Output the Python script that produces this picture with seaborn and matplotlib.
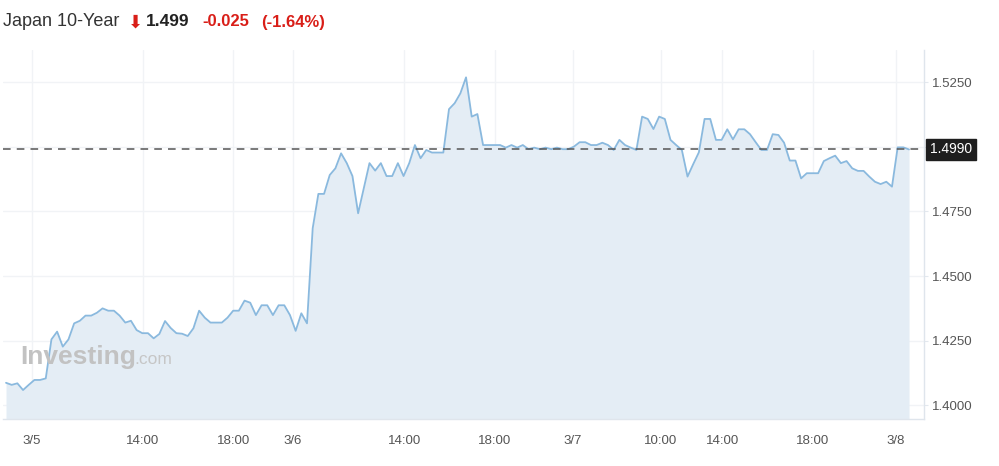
import seaborn as sns
import matplotlib.pyplot as plt
import matplotlib.transforms as mtransforms
import pandas as pd
import numpy as np

# Japan 10-Year yield, 15-min bars 3/5 - 3/8
yields = [
    1.4087, 1.4079, 1.4085, 1.4059, 1.4079, 1.4098, 1.4098, 1.4104, 1.4255, 1.4285,
    1.4227, 1.4255, 1.4317, 1.4327, 1.4347, 1.4347, 1.4358, 1.4375, 1.4366, 1.4366,
    1.4347, 1.4320, 1.4327, 1.4291, 1.4279, 1.4279, 1.4259, 1.4276, 1.4326, 1.4299,
    1.4279, 1.4277, 1.4268, 1.4298, 1.4366, 1.4339, 1.4320, 1.4320, 1.4320, 1.4339,
    1.4366, 1.4366, 1.4405, 1.4397, 1.4349, 1.4387, 1.4387, 1.4349, 1.4387, 1.4387,
    1.4349, 1.4288, 1.4356, 1.4317, 1.4685, 1.4818, 1.4818, 1.4891, 1.4917, 1.4975,
    1.4937, 1.4887, 1.4743, 1.4840, 1.4937, 1.4908, 1.4937, 1.4887, 1.4887, 1.4937,
    1.4887, 1.4937, 1.5007, 1.4956, 1.4988, 1.4978, 1.4978, 1.4978, 1.5146, 1.5169,
    1.5207, 1.5269, 1.5117, 1.5127, 1.5007, 1.5007, 1.5007, 1.5007, 1.4997, 1.5007,
    1.4997, 1.5007, 1.4991, 1.4997, 1.4991, 1.4997, 1.4991, 1.4997, 1.4991, 1.4991,
    1.5001, 1.5018, 1.5018, 1.5007, 1.5007, 1.5016, 1.5007, 1.4988, 1.5027, 1.5007,
    1.4997, 1.4988, 1.5117, 1.5108, 1.5069, 1.5117, 1.5108, 1.5027, 1.5007, 1.4988,
    1.4885, 1.4933, 1.4979, 1.5108, 1.5108, 1.5027, 1.5027, 1.5068, 1.5029, 1.5068,
    1.5068, 1.5049, 1.5018, 1.4988, 1.4988, 1.5049, 1.5046, 1.5016, 1.4947, 1.4947,
    1.4878, 1.4898, 1.4898, 1.4898, 1.4945, 1.4956, 1.4966, 1.4937, 1.4945, 1.4917,
    1.4907, 1.4907, 1.4885, 1.4865, 1.4856, 1.4865, 1.4846, 1.4998, 1.4998, 1.4990,
]
tick_pos = [4.6, 24.1, 40.0, 50.5, 70.1, 86.1, 99.8, 115.3, 126.1, 142.1, 156.7]
tick_labels = ['3/5', '14:00', '18:00', '3/6', '14:00', '18:00', '3/7', '10:00', '14:00', '18:00', '3/8']
y_ticks = [1.4000, 1.4250, 1.4500, 1.4750, 1.5000, 1.5250]
last_price = 1.4990

df = pd.DataFrame({'bar': np.arange(len(yields)), 'yield': yields})

sns.set_style("white")
plt.rcParams['font.family'] = ['Liberation Sans', 'DejaVu Sans']

fig = plt.figure(figsize=(9.99, 4.66), dpi=100)
ax = fig.add_axes([0.003, 0.0998, 0.922, 0.793])

ylow, yhigh = 1.3945, 1.5375
ax.fill_between(df['bar'], df['yield'], ylow, color='#e4edf5', lw=0, zorder=1)
sns.lineplot(data=df, x='bar', y='yield', ax=ax, color='#8ab9de', lw=1.3, zorder=3)

ax.set_xlim(-0.53, 161.65)
ax.set_ylim(ylow, yhigh)

# grid
for t in tick_pos:
    ax.axvline(t, color='#f1f3f6', lw=1, zorder=0.5)
for t in y_ticks:
    ax.axhline(t, color='#f1f3f6', lw=1, zorder=0.5)

# last price dashed line
ax.axhline(last_price, color='#555555', lw=1.1, ls=(0, (5, 4)), zorder=4)

ax.set_xticks(tick_pos)
ax.set_xticklabels(tick_labels)
ax.yaxis.tick_right()
ax.set_yticks(y_ticks)
ax.set_yticklabels([f'{v:.4f}' if abs(v - 1.5) > 1e-9 else '' for v in y_ticks])
ax.tick_params(axis='x', length=4, color='#e3e8ee', colors='#555555', labelsize=9.5, pad=7)
ax.tick_params(axis='y', length=3, color='#e3e8ee', colors='#555555', labelsize=9.5, pad=3)
ax.set_xlabel('')
ax.set_ylabel('')

for s in ['left', 'top']:
    ax.spines[s].set_visible(False)
for s in ['bottom', 'right']:
    ax.spines[s].set_color('#dfe5ec')
    ax.spines[s].set_linewidth(1)

# last price tag
trans = mtransforms.blended_transform_factory(ax.transAxes, ax.transData)
ax.text(1.0065, last_price, '1.4990', transform=trans, color='white', fontsize=10,
        va='center', ha='left', zorder=6,
        bbox=dict(boxstyle='square,pad=0.28', fc='#1e1e1e', ec='#1e1e1e'))

# watermark
ax.text(0.0185, 0.15, 'Investing', transform=ax.transAxes, fontsize=19, fontweight='bold',
        color='#c2c2c2', zorder=5, va='baseline')
ax.text(0.1425, 0.15, '.com', transform=ax.transAxes, fontsize=12.5,
        color='#c6c6c6', zorder=5, va='baseline')

# header
yb = 1 - 26.5 / 466
fig.text(3 / 999, yb, 'Japan 10-Year', fontsize=13, color='#333333', va='baseline')
fig.text(128 / 999, yb - 0.002, '\u2b07', fontsize=13, color='#d91e18', va='baseline',
         family=['DejaVu Sans'])
fig.text(146 / 999, yb, '1.499', fontsize=12.5, color='#222222', fontweight='bold', va='baseline')
fig.text(202 / 999, yb, '-0.025', fontsize=12, color='#d91e18', fontweight='bold', va='baseline')
fig.text(261 / 999, yb, '(-1.64%)', fontsize=12, color='#d91e18', fontweight='bold', va='baseline')

fig.savefig('out.png', dpi=100)
